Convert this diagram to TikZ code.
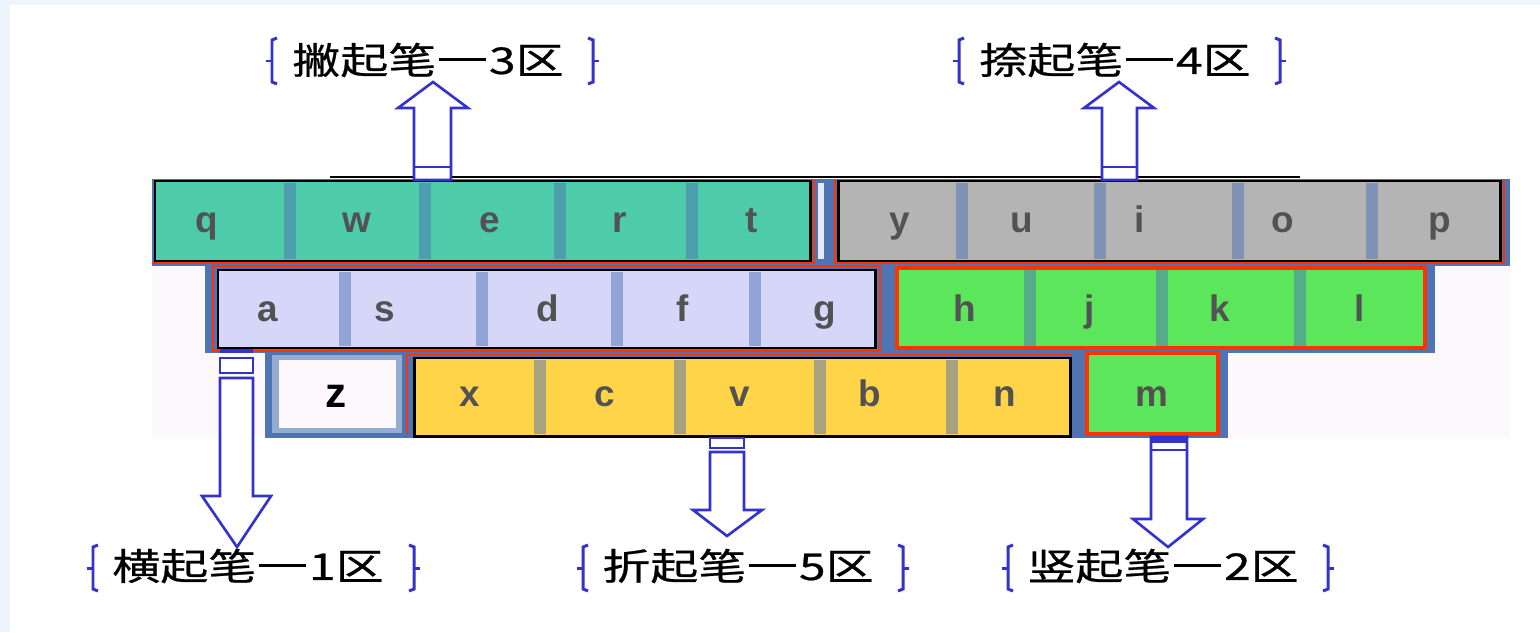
\documentclass[tikz,border=0pt]{standalone}
\usepackage{fontspec}
\setmainfont{Liberation Sans}
\newfontfamily\cjk[FakeStretch=1.3,FakeBold=0.6]{Noto Sans CJK SC}
\newcommand\zdash{\kern1.5pt\rule[0.34em]{27pt}{1.8pt}\kern1.5pt}
\definecolor{bgblue}{HTML}{EEF5FC}
\definecolor{kbbg}{HTML}{FCF8FC}
\definecolor{steel}{HTML}{4E74B4}
\definecolor{redl}{HTML}{FF3300}
\definecolor{arrowblue}{HTML}{3333CC}
\definecolor{teal}{HTML}{4ECBA8}
\definecolor{greyk}{HTML}{B4B4B4}
\definecolor{lav}{HTML}{D6D6F8}
\definecolor{greenk}{HTML}{5CE65C}
\definecolor{yellowk}{HTML}{FFD448}
\tikzset{
  keyletter/.style={font=\fontsize{21}{21}\selectfont\bfseries, text=black!68, inner sep=0pt, anchor=base},
  seam/.style={fill=steel, opacity=0.5},
  blkbox/.style={draw=black, line width=1.7pt},
  redbox/.style={draw=redl, line width=1.5pt},
  blockarrow/.style={draw=arrowblue, line width=1.5pt, fill=white, line join=miter},
  label/.style={font=\cjk\fontsize{21}{21}\selectfont, inner sep=0pt},
  brace/.style={draw=arrowblue, line width=1.7pt},
  lbrace/.pic={\draw[brace] (7,-23) -- (2,-21) -- (2,21) -- (7,23); \draw[brace] (2,0) -- (-4,0);},
  rbrace/.pic={\draw[brace] (-7,-23) -- (-2,-21) -- (-2,21) -- (-7,23); \draw[brace] (-2,0) -- (4,0);}
}
\begin{document}
\begin{tikzpicture}[x=0.02cm,y=-0.02cm]
\useasboundingbox (0,0) rectangle (1540,632);
\fill[bgblue] (0,0) rectangle (1540,632);
\fill[white] (10,5) rectangle (1540,632);

% keyboard backing
\fill[kbbg] (152,262) rectangle (1510,437);
\fill[steel] (152,179) rectangle (1510,266);
\fill[steel] (205,263) rectangle (1435,353);
\fill[steel] (265,352) rectangle (1228,438);
\fill[white!85!steel] (818,183) rectangle (824,259);
\draw[black, line width=1.3pt] (330,177) -- (1300,177);

% row 1 : q w e r t
\fill[teal] (155,181) rectangle (810,261);
\foreach \x in {290,425,560,692} \fill[seam] (\x-6,183) rectangle (\x+6,259);
\draw[redbox] (152,263) -- (814,263) -- (814,180);
\draw[blkbox] (155,181) rectangle (810,261);
% y u i o p
\fill[greyk] (838,181) rectangle (1500,261);
\foreach \x in {962,1100,1238,1372} \fill[seam] (\x-6,183) rectangle (\x+6,259);
\draw[redbox] (835,180) -- (835,263) -- (1504,263) -- (1504,180);
\draw[blkbox] (838,181) rectangle (1500,261);

% row 2 : a s d f g
\fill[lav] (218,270) rectangle (875,348);
\foreach \x in {345,482,617,755} \fill[seam] (\x-6,272) rectangle (\x+6,346);
\draw[redbox] (213,266) rectangle (880,351);
\draw[blkbox] (218,270) rectangle (875,348);
% h j k l
\fill[greenk] (897,268) rectangle (1425,348);
\foreach \x in {1030,1162,1300} \fill[seam] (\x-6,270) rectangle (\x+6,346);
\draw[redl, line width=2pt] (897,268) rectangle (1425,348);

% row 3 : z
\fill[steel!60] (272,355) rectangle (402,433);
\fill[kbbg] (279,360) rectangle (396,428);
% x c v b n
\fill[yellowk] (414,358) rectangle (1070,436);
\foreach \x in {540,680,820,952} \fill[seam] (\x-6,360) rectangle (\x+6,434);
\draw[redbox] (407,355) -- (407,434) ;
\draw[redbox] (407,355) -- (1072,355);
\draw[blkbox] (414,358) rectangle (1070,436);
% m
\fill[greenk] (1087,353) rectangle (1218,434);
\draw[redl, line width=2pt] (1087,353) rectangle (1218,434);

% key letters
\node[keyletter] (kq) at (207,232) {q};
\node[keyletter] (kw) at (357,232) {w};
\node[keyletter] (ke) at (490,232) {e};
\node[keyletter] (kr) at (620,232) {r};
\node[keyletter] (kt) at (752,232) {t};
\node[keyletter] (ky) at (900,232) {y};
\node[keyletter] (ku) at (1022,232) {u};
\node[keyletter] (ki) at (1140,232) {i};
\node[keyletter] (ko) at (1283,232) {o};
\node[keyletter] (kp) at (1440,232) {p};
\node[keyletter] (ka) at (268,321) {a};
\node[keyletter] (ks) at (385,321) {s};
\node[keyletter] (kd) at (548,321) {d};
\node[keyletter] (kf) at (683,321) {f};
\node[keyletter] (kg) at (825,321) {g};
\node[keyletter] (kh) at (965,321) {h};
\node[keyletter] (kj) at (1090,321) {j};
\node[keyletter] (kk) at (1220,321) {k};
\node[keyletter] (kl) at (1360,321) {l};
\node[keyletter, text=black, font=\fontsize{24}{24}\selectfont\bfseries] (kz) at (336,407) {z};
\node[keyletter] (kx) at (470,406) {x};
\node[keyletter] (kc) at (605,406) {c};
\node[keyletter] (kv) at (740,406) {v};
\node[keyletter] (kb) at (870,406) {b};
\node[keyletter] (kn) at (1005,406) {n};
\node[keyletter] (km) at (1152,406) {m};

% arrow 3 (up)
\draw[blockarrow] (414,180) -- (414,108) -- (398,108) -- (433,82) -- (468,108) -- (451,108) -- (451,180) -- cycle;
\draw[arrowblue, line width=1.5pt] (414,167) -- (451,167);
% arrow 4 (up)
\draw[blockarrow] (1102,180) -- (1102,108) -- (1084,108) -- (1119,82) -- (1154,108) -- (1137,108) -- (1137,180) -- cycle;
\draw[arrowblue, line width=1.5pt] (1102,167) -- (1137,167);
% arrow 1 (down)
\draw[arrowblue, line width=2pt] (220,351) -- (253,351);
\draw[blockarrow] (220,358) rectangle (253,373);
\draw[blockarrow] (220,378) -- (220,496) -- (202,496) -- (237,547) -- (271,496) -- (253,496) -- (253,378) -- cycle;
% arrow 5 (down)
\draw[blockarrow] (710,438) rectangle (744,448);
\draw[blockarrow] (710,452) -- (710,510) -- (693,510) -- (727,536) -- (762,510) -- (744,510) -- (744,452) -- cycle;
% arrow 2 (down)
\draw[blockarrow] (1151,437) -- (1151,519) -- (1133,519) -- (1168,547) -- (1203,519) -- (1187,519) -- (1187,437) -- cycle;
\fill[arrowblue] (1151,436) rectangle (1187,443);
\draw[arrowblue, line width=1.5pt] (1151,450) -- (1187,450);

% labels
\node[label] (l3) at (428,60) {撇起笔\zdash 3区};
\pic at (270,61) {lbrace};
\pic at (595,61) {rbrace};
\node[label] (l4) at (1115,60) {捺起笔\zdash 4区};
\pic at (957,61) {lbrace};
\pic at (1282,61) {rbrace};
\node[label] (l1) at (248,566) {横起笔\zdash 1区};
\pic at (91,568) {lbrace};
\pic at (416,568) {rbrace};
\node[label] (l5) at (738,566) {折起笔\zdash 5区};
\pic at (581,568) {lbrace};
\pic at (905,568) {rbrace};
\node[label] (l2) at (1163,566) {竖起笔\zdash 2区};
\pic at (1006,568) {lbrace};
\pic at (1330,568) {rbrace};
\end{tikzpicture}
\end{document}
